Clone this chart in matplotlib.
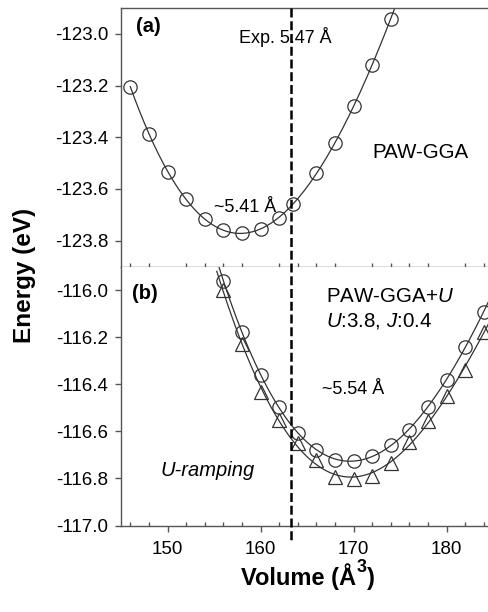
import numpy as np
import matplotlib
matplotlib.use("Agg")
import matplotlib.pyplot as plt
from matplotlib.lines import Line2D
from matplotlib.ticker import MultipleLocator, FormatStrFormatter

plt.rcParams['font.family'] = ['Liberation Sans', 'DejaVu Sans']
plt.rcParams['mathtext.fontset'] = 'custom'
plt.rcParams['mathtext.it'] = 'Liberation Sans:italic'
plt.rcParams['mathtext.rm'] = 'Liberation Sans'
plt.rcParams['mathtext.bf'] = 'Liberation Sans:bold'

# (a) PAW-GGA
vol_a = [146, 148, 150, 152, 154, 156, 158, 160, 162, 163.5, 166, 168, 170, 172, 174]
e_a = [-123.204, -123.386, -123.533, -123.639, -123.717, -123.758, -123.771,
       -123.755, -123.713, -123.658, -123.538, -123.423, -123.281, -123.120, -122.942]

# (b) PAW-GGA+U
vol_b = [156, 158, 160, 162, 164, 166, 168, 170, 172, 174, 176, 178, 180, 182, 184]
e_b_circ = [-115.960, -116.177, -116.361, -116.496, -116.606, -116.680, -116.720,
            -116.726, -116.704, -116.658, -116.593, -116.497, -116.380, -116.243, -116.092]
e_b_tri = [-116.000, -116.230, -116.432, -116.552, -116.649, -116.722, -116.793,
           -116.802, -116.791, -116.736, -116.644, -116.556, -116.450, -116.340, -116.177]

v_exp = 163.3

W, H = 489, 612
fig = plt.figure(figsize=(W / 100, H / 100), dpi=100)

left = 121 / W
width = (493 - 121) / W
top_a, mid, bot_b = 8, 266.5, 525.5
ax_a = fig.add_axes([left, 1 - mid / H, width, (mid - top_a) / H])
ax_b = fig.add_axes([left, 1 - bot_b / H, width, (bot_b - mid) / H])

line_c = '#333333'
spine_c = '#555555'

def fit_curve(x, y, x0, x1, deg=4):
    p = np.polyfit(x, y, deg)
    xs = np.linspace(x0, x1, 300)
    return xs, np.polyval(p, xs)

ms = 9.6
# panel (a)
xs, ys = fit_curve(vol_a, e_a, 146, 176)
ax_a.plot(xs, ys, color=line_c, lw=0.9)
ax_a.plot(vol_a, e_a, 'o', ms=ms, mfc='none', mec=line_c, mew=0.9)
ax_a.set_ylim(-123.9, -122.9)

# panel (b)
for e in (e_b_circ, e_b_tri):
    xs, ys = fit_curve(vol_b, e, 155.3, 185)
    ax_b.plot(xs, ys, color=line_c, lw=0.9)
ax_b.plot(vol_b, e_b_circ, 'o', ms=ms, mfc='none', mec=line_c, mew=0.9)
ax_b.plot(vol_b, e_b_tri, '^', ms=10.6, mfc='none', mec=line_c, mew=0.9)
ax_b.set_ylim(-117.0, -115.9)

for ax in (ax_a, ax_b):
    ax.set_xlim(145, 185)
    ax.xaxis.set_major_locator(MultipleLocator(10))
    ax.xaxis.set_minor_locator(MultipleLocator(2))
    ax.yaxis.set_major_locator(MultipleLocator(0.2))
    ax.yaxis.set_major_formatter(FormatStrFormatter('%.1f'))
    ax.tick_params(axis='x', which='major', direction='out', length=4, width=1,
                   color=spine_c, labelsize=13.5, pad=7)
    ax.tick_params(axis='x', which='minor', direction='in', length=3, width=1,
                   color=spine_c)
    ax.tick_params(axis='y', which='major', direction='out', length=4, width=1,
                   color=spine_c, labelsize=13.5, pad=5)
    ax.spines['right'].set_visible(False)
    for s in ('left', 'bottom', 'top'):
        ax.spines[s].set_color(spine_c)
        ax.spines[s].set_linewidth(1.0)

ax_a.tick_params(axis='x', labelbottom=False)
ax_b.spines['top'].set_visible(False)

# experimental volume marker spanning both panels
xfig = (121 + (v_exp - 145) * 9.3) / W
fig.add_artist(Line2D([xfig, xfig], [1 - 8 / H, 1 - 541 / H], transform=fig.transFigure,
                      color='black', lw=1.8, ls=(0, (3.6, 1.5))))

# panel texts
fig.text(136 / W, 1 - 27 / H, '(a)', fontsize=14.5, fontweight='bold', va='center')
fig.text(132 / W, 1 - 293 / H, '(b)', fontsize=14.5, fontweight='bold', va='center')
fig.text(239 / W, 1 - 37 / H, 'Exp. 5.47 Å', fontsize=13, va='center')
fig.text(372 / W, 1 - 152 / H, 'PAW-GGA', fontsize=14.8, va='center')
fig.text(214 / W, 1 - 207 / H, '~5.41 Å', fontsize=13, va='center')
fig.text(326 / W, 1 - 296 / H, 'PAW-GGA+$\\mathit{U}$', fontsize=14.8, va='center')
fig.text(326 / W, 1 - 321 / H, '$\\mathit{U}$:3.8, $\\mathit{J}$:0.4', fontsize=14.8, va='center')
fig.text(322 / W, 1 - 390 / H, '~5.54 Å', fontsize=13, va='center')
fig.text(160 / W, 1 - 471 / H, 'U-ramping', fontsize=14.5, style='italic', va='center')

fig.text(25 / W, 1 - 275 / H, 'Energy (eV)', fontsize=17.5, fontweight='bold',
         rotation=90, va='center', ha='center')

# x-axis title assembled from pieces so the exponent sits above the ring of Å
renderer = fig.canvas.get_renderer()
base_y = 1 - 585 / H
parts = [('Volume (Å', 17, 0), ('3', 13, 12.5), (')', 17, 0)]
texts = []
for s, fs, rise in parts:
    t = fig.text(0, base_y + rise / H, s, fontsize=fs, fontweight='bold',
                 ha='left', va='baseline')
    texts.append(t)
widths = [t.get_window_extent(renderer).width for t in texts]
x = 307 - sum(widths) / 2 + 0.5
for t, w in zip(texts, widths):
    t.set_x(x / W)
    x += w + 0.5

fig.savefig('out.png', dpi=100)
